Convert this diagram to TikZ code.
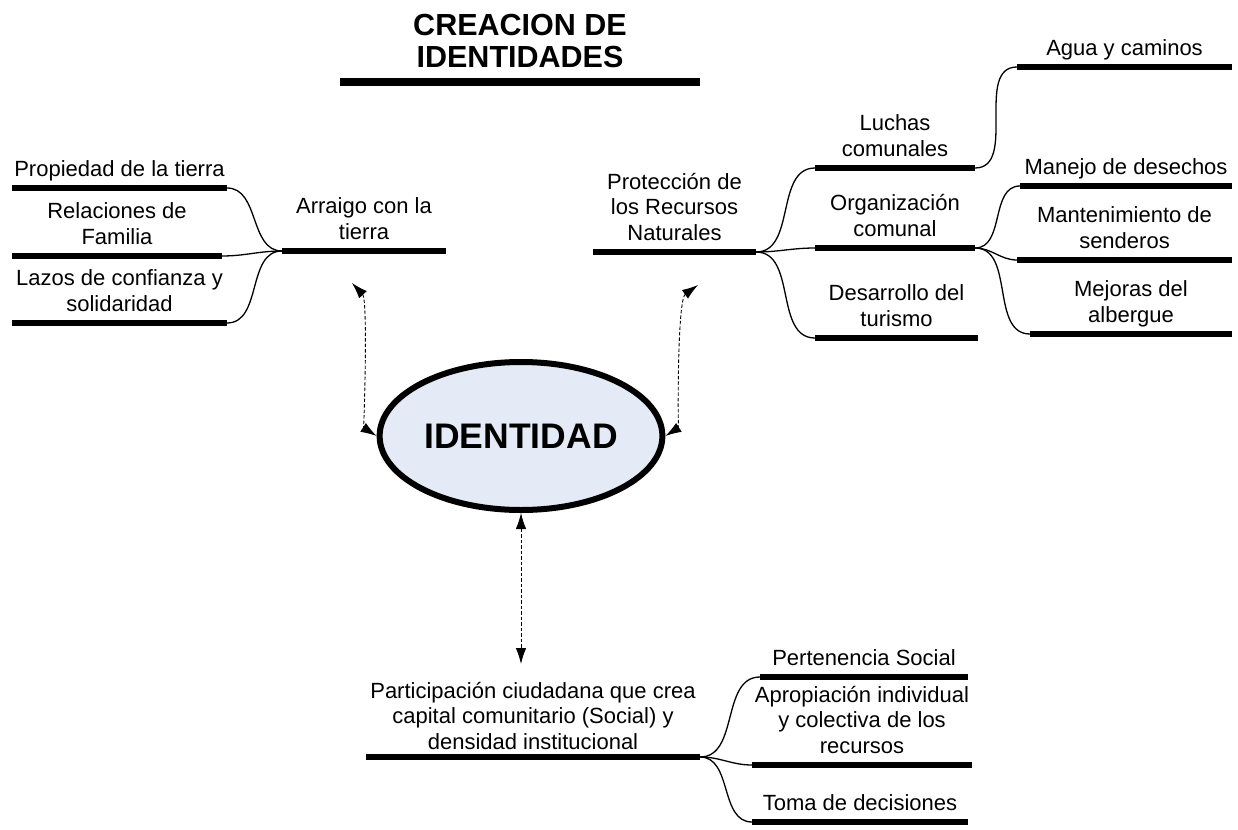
\documentclass[tikz,border=0pt]{standalone}
\usepackage{fontspec}
\setmainfont{Liberation Sans}
\usepackage{tikz}
\usetikzlibrary{positioning,shapes.geometric,arrows.meta}
\definecolor{idfill}{RGB}{228,234,246}

\begin{document}
\begin{tikzpicture}[x=1pt, y=-1pt,
  txt/.style={align=center, inner sep=1pt, font=\fontsize{22}{25.5}\selectfont,
              execute at end node=\strut},
  bar/.style={fill=black, inner sep=0pt, outer sep=0pt, minimum height=6pt},
  rama/.style={line width=1.3pt},
  enlace/.style={line width=0.9pt, dash pattern=on 3.5pt off 2pt,
                 {Latex[length=16pt,width=10.5pt]}-{Latex[length=16pt,width=10.5pt]}},
]
\useasboundingbox (0,0) rectangle (1238,829);

% titulo
\node[bar, minimum width=360pt, minimum height=8pt] (tbar) at (520,82) {};
\node[txt, above=0pt of tbar, font=\fontsize{30.5}{32}\selectfont\bfseries] (titulo) {CREACION DE\\IDENTIDADES};

% centro
\node[ellipse, draw, line width=6pt, fill=idfill, minimum width=264pt, minimum height=148pt,
      font=\fontsize{35.5}{42}\selectfont\bfseries] (ident) at (521,436) {IDENTIDAD};

% arraigo
\node[bar, minimum width=164pt] (arraigo) at (364,251) {};
\node[bar, minimum width=215pt] (prop) at (119.5,188) {};
\node[bar, minimum width=210pt] (rel) at (117,256) {};
\node[bar, minimum width=215pt] (lazos) at (119.5,323) {};
\node[txt, above=0pt of arraigo] (arraigoT) {Arraigo con la\\tierra};
\node[txt, above=0pt of prop] (propT) {Propiedad de la tierra};
\node[txt, above=0pt of rel] (relT) {Relaciones de\\Familia};
\node[txt, above=0pt of lazos] (lazosT) {Lazos de confianza y\\solidaridad};
\foreach \b in {prop,rel,lazos}
  \draw[rama] (arraigo.west) to[out=180,in=0] (\b.east);

% recursos naturales
\node[bar, minimum width=163pt] (prot) at (674.5,252) {};
\node[bar, minimum width=160pt] (luchas) at (895,168) {};
\node[bar, minimum width=160pt] (organ) at (895,248) {};
\node[bar, minimum width=163pt] (desarr) at (896.5,338) {};
\node[bar, minimum width=215pt] (agua) at (1124.5,67) {};
\node[bar, minimum width=212pt] (manejo) at (1126,186) {};
\node[bar, minimum width=215pt] (mant) at (1124.5,260) {};
\node[bar, minimum width=202pt] (mejoras) at (1131,334) {};
\node[txt, above=0pt of prot] (protT) {Protección de\\los Recursos\\Naturales};
\node[txt, above=0pt of luchas] (luchasT) {Luchas\\comunales};
\node[txt, above=0pt of organ] (organT) {Organización\\comunal};
\node[txt, above=0pt of desarr] (desarrT) {Desarrollo del\\turismo};
\node[txt, above=0pt of agua] (aguaT) {Agua y caminos};
\node[txt, above=0pt of manejo] (manejoT) {Manejo de desechos};
\node[txt, above=0pt of mant] (mantT) {Mantenimiento de\\senderos};
\node[txt, above=0pt of mejoras] (mejorasT) {Mejoras del\\albergue};
\foreach \b in {luchas,organ,desarr}
  \draw[rama] (prot.east) to[out=0,in=180] (\b.west);
\draw[rama] (luchas.east) to[out=0,in=180] (agua.west);
\foreach \b in {manejo,mant,mejoras}
  \draw[rama] (organ.east) to[out=0,in=180] (\b.west);

% participacion
\node[bar, minimum width=334pt] (partic) at (533,757) {};
\node[bar, minimum width=208pt] (perten) at (864,677) {};
\node[bar, minimum width=220pt] (aprop) at (862,765) {};
\node[bar, minimum width=216pt] (toma) at (860,822) {};
\node[txt, above=-4pt of partic] (particT) {Participación ciudadana que crea\\capital comunitario (Social) y\\densidad institucional};
\node[txt, above=0pt of perten] (pertenT) {Pertenencia Social};
\node[txt, above=0pt of aprop] (apropT) {Apropiación individual\\y colectiva de los\\recursos};
\node[txt, above=0pt of toma] (tomaT) {Toma de decisiones};
\foreach \b in {perten,aprop,toma}
  \draw[rama] (partic.east) to[out=0,in=180] (\b.west);

% enlaces con la identidad
\coordinate (pA) at (352,283);
\coordinate (pB) at (698,285);
\coordinate (pC) at (521,664);
\draw[enlace] (pA) .. controls (368,300) and (364,428) .. (ident.west);
\draw[enlace] (pB) .. controls (677,300) and (678,428) .. (ident.east);
\draw[enlace] (ident.south) -- (pC);
\end{tikzpicture}
\end{document}
